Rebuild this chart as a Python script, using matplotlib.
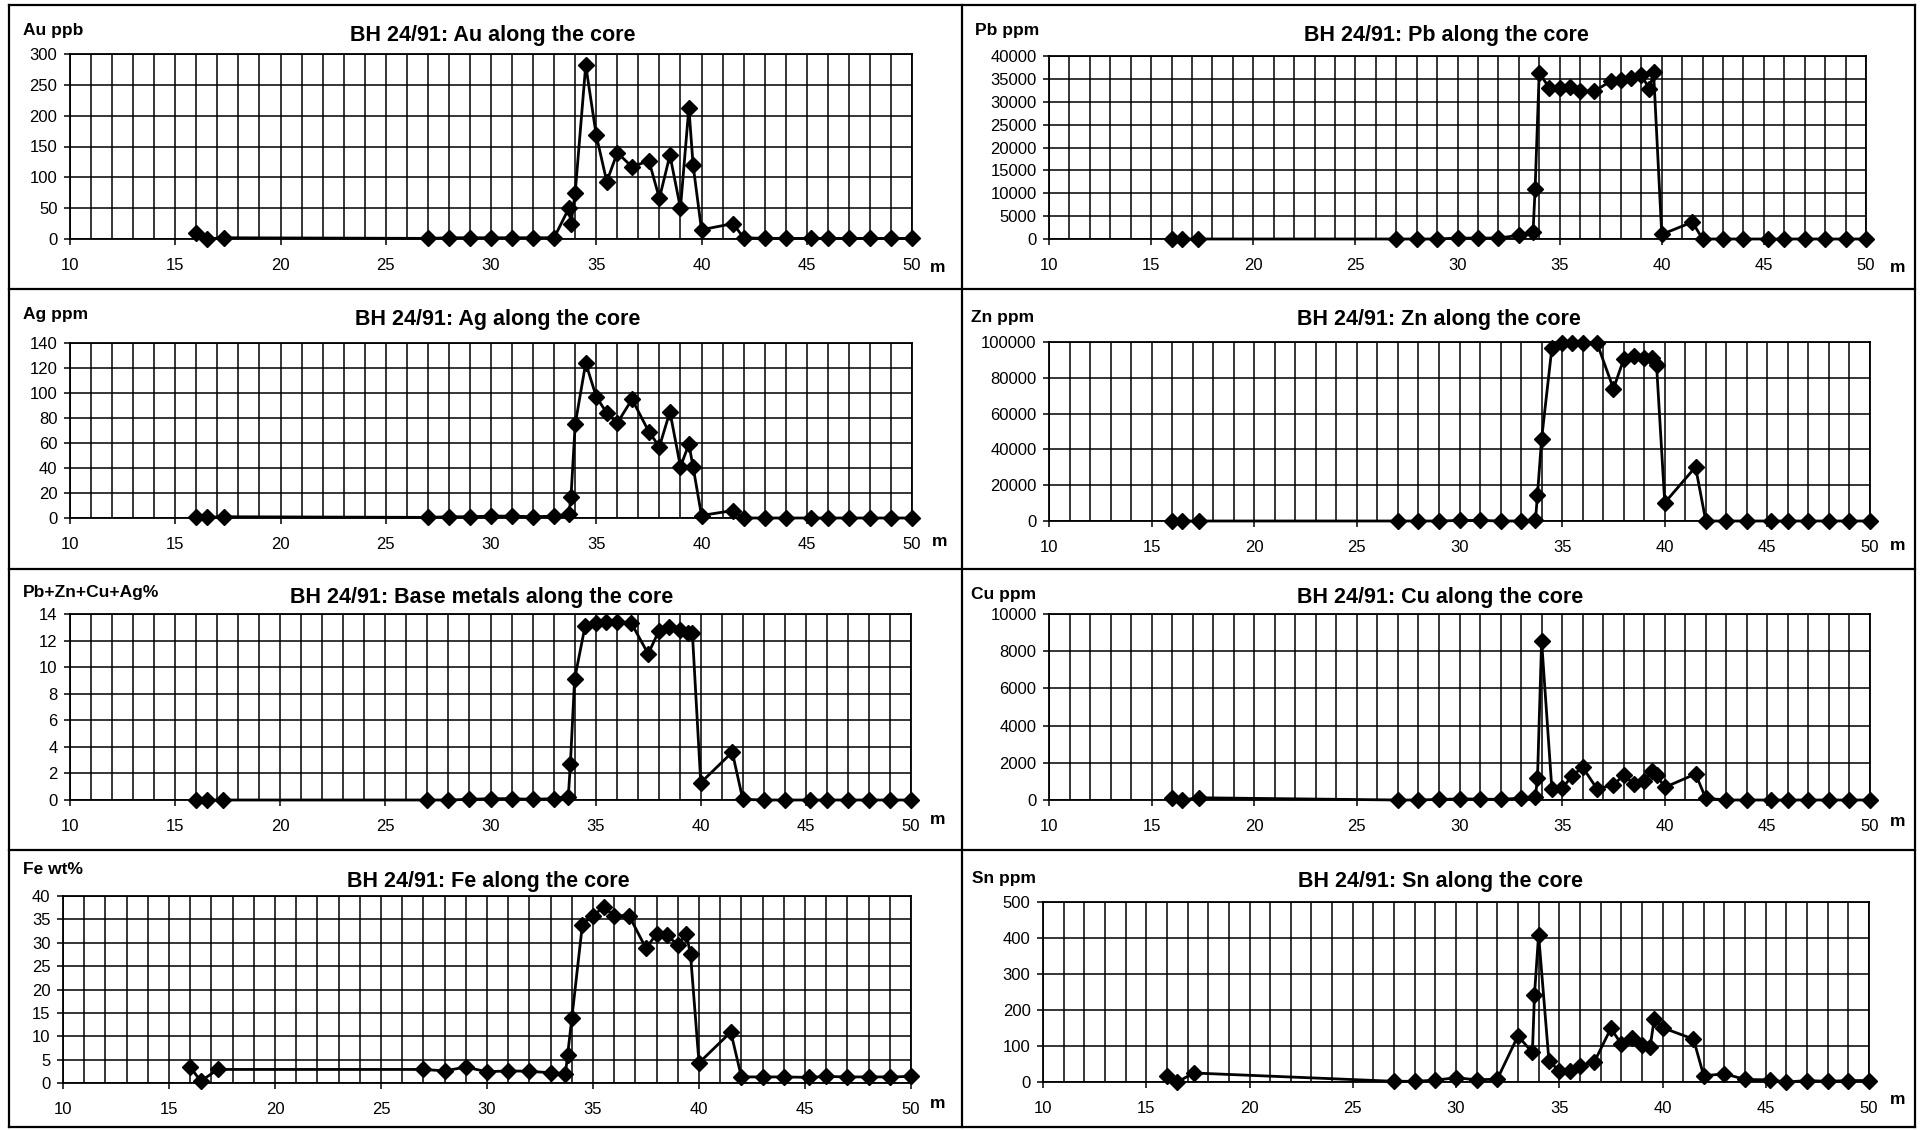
import matplotlib.pyplot as plt
from matplotlib.ticker import MultipleLocator
from matplotlib.lines import Line2D

W, H = 1921, 1130
plt.rcParams['font.family'] = ['Liberation Sans', 'DejaVu Sans']

# sample depths along the core (m)
depth = [16.0, 16.5, 17.3, 27, 28, 29, 30, 31, 32, 33, 33.7, 33.8, 34.0, 34.5,
         35.0, 35.5, 36.0, 36.7, 37.5, 38.0, 38.5, 39.0, 39.4, 39.6, 40.0, 41.5,
         42, 43, 44, 45.2, 46, 47, 48, 49, 50]

au = [9, 0, 2, 1, 2, 2, 2, 2, 2, 2, 50, 25, 75, 282, 168, 93, 140, 117, 127, 66,
      136, 50, 213, 120, 15, 25, 2, 1, 1, 1, 1, 1, 1, 1, 1]
pb = [0, 0, 0, 0, 0, 0, 200, 200, 200, 800, 1500, 11000, 36300, 33000, 33000,
      33200, 32300, 32300, 34500, 34800, 35200, 35800, 32800, 36500, 1000, 3700,
      0, 0, 0, 0, 0, 0, 0, 0, 0]
ag = [0.5, 0.5, 1, 0.5, 1, 1, 1.5, 1.5, 1, 1.5, 3, 17, 75, 124, 97, 84, 76, 95,
      69, 57, 85, 41, 59, 41, 2, 6, 0, 0, 0, 0, 0, 0, 0, 0, 0]
zn = [0, 0, 0, 0, 0, 0, 300, 300, 0, 0, 300, 14700, 45800, 96600, 99600, 99500,
      99500, 99400, 73900, 90300, 92000, 90900, 91000, 87300, 10200, 30200,
      0, 0, 0, 0, 0, 0, 0, 0, 0]
base = [0, 0, 0, 0, 0, 0.05, 0.1, 0.1, 0.05, 0.1, 0.25, 2.7, 9.1, 13.1, 13.3,
        13.4, 13.4, 13.3, 11.0, 12.7, 13.0, 12.8, 12.6, 12.6, 1.3, 3.6, 0.05,
        0, 0, 0, 0, 0, 0, 0, 0]
cu = [90, 0, 120, 0, 0, 30, 60, 50, 30, 100, 180, 1200, 8550, 600, 630, 1310,
      1760, 600, 800, 1350, 840, 1020, 1560, 1350, 680, 1400, 90, 0, 0, 0, 0,
      0, 0, 0, 0]
fe = [3.4, 0.4, 2.9, 2.9, 2.6, 3.4, 2.4, 2.6, 2.5, 2.2, 2.0, 5.9, 13.8, 33.9,
      35.8, 37.6, 35.8, 35.8, 28.8, 31.9, 31.6, 29.5, 31.9, 27.5, 4.3, 10.9,
      1.3, 1.3, 1.3, 1.2, 1.4, 1.3, 1.3, 1.3, 1.4]
sn = [17, 0, 25, 2, 2, 5, 12, 6, 8, 128, 82, 242, 409, 59, 31, 31, 45, 56, 149,
      106, 121, 102, 97, 175, 151, 119, 17, 23, 7, 6, 0, 4, 2, 4, 4]

fig = plt.figure(figsize=(W / 100, H / 100), dpi=100)


def fx(x):
    return x / W


def fy(y):
    return 1 - y / H


def panel(box, vals, ymax, ystep, title, unit, title_xy, unit_xy, m_xy):
    l, t, r, b = box
    ax = fig.add_axes([fx(l), fy(b), (r - l) / W, (b - t) / H])
    ax.plot(depth, vals, color='black', lw=2, marker='D', ms=7.8,
            zorder=3, clip_on=False)
    ax.set_xlim(10, 50)
    ax.set_ylim(0, ymax)
    ax.xaxis.set_major_locator(MultipleLocator(5))
    ax.xaxis.set_minor_locator(MultipleLocator(1))
    ax.yaxis.set_major_locator(MultipleLocator(ystep))
    ax.grid(which='both', axis='x', color='black', lw=1.1)
    ax.grid(which='major', axis='y', color='black', lw=1.1)
    ax.set_axisbelow(True)
    for s in ax.spines.values():
        s.set_linewidth(1.3)
    ax.tick_params(which='major', direction='out', length=4, width=1.1,
                   labelsize=12)
    ax.tick_params(axis='x', which='major', pad=10)
    ax.tick_params(axis='y', which='major', pad=5)
    ax.tick_params(which='minor', length=0)
    fig.text(fx(title_xy[0]), fy(title_xy[1]), title, ha='center',
             va='center', fontsize=15.5, fontweight='bold')
    fig.text(fx(unit_xy[0]), fy(unit_xy[1]), unit, ha='left', va='center',
             fontsize=12.5, fontweight='bold')
    fig.text(fx(m_xy[0]), fy(m_xy[1]), 'm', ha='center', va='center',
             fontsize=12.5, fontweight='bold')
    return ax


panel((70, 54, 912, 239), au, 300, 50, 'BH 24/91: Au along the core',
      'Au ppb', (493, 35), (23, 31), (938, 267))
panel((1049, 56, 1866, 239), pb, 40000, 5000, 'BH 24/91: Pb along the core',
      'Pb ppm', (1446, 35), (975, 31), (1898, 267))
panel((70, 343, 912, 518), ag, 140, 20, 'BH 24/91: Ag along the core',
      'Ag ppm', (498, 320), (23, 315), (940, 542))
panel((1049, 342, 1870, 521), zn, 100000, 20000, 'BH 24/91: Zn along the core',
      'Zn ppm', (1439, 320), (971, 317), (1898, 545))
panel((70, 614, 911, 800), base, 14, 2,
      'BH 24/91: Base metals along the core', 'Pb+Zn+Cu+Ag%',
      (482, 598), (23, 592), (938, 820))
panel((1049, 614, 1870, 800), cu, 10000, 2000, 'BH 24/91: Cu along the core',
      'Cu ppm', (1440, 598), (971, 595), (1898, 822))
panel((63, 896, 911, 1083), fe, 40, 5, 'BH 24/91: Fe along the core',
      'Fe wt%', (488, 881), (23, 870), (938, 1103))
panel((1043, 902, 1869, 1082), sn, 500, 100, 'BH 24/91: Sn along the core',
      'Sn ppm', (1440, 882), (972, 878), (1898, 1100))

# panel frames
frame = dict(color='black', lw=1.6, transform=fig.transFigure)
for x in (9, 962, 1915):
    fig.add_artist(Line2D([fx(x), fx(x)], [fy(5), fy(1127)], **frame))
for y in (5, 289, 569, 850, 1127):
    fig.add_artist(Line2D([fx(9), fx(1915)], [fy(y), fy(y)], **frame))

fig.savefig('out.png', dpi=100, facecolor='white')
